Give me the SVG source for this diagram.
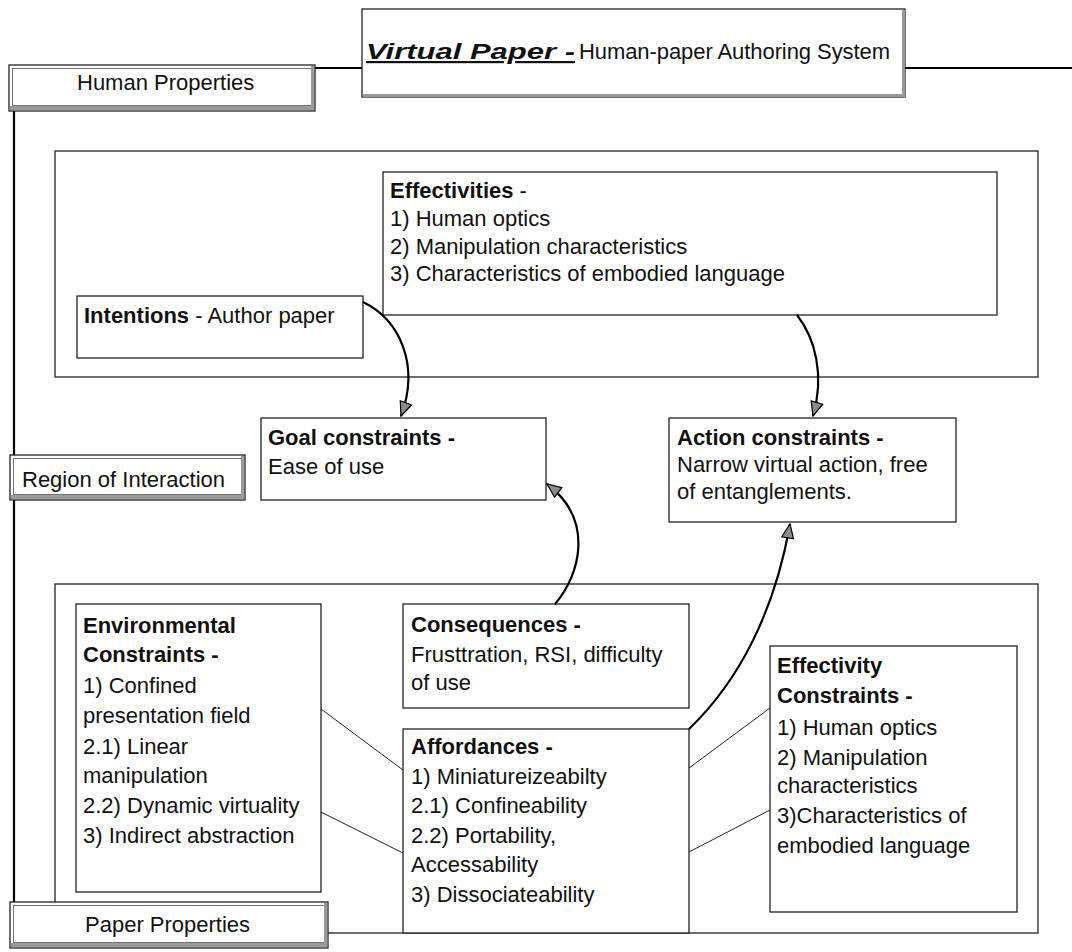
<svg xmlns="http://www.w3.org/2000/svg" width="1072" height="952" viewBox="0 0 1072 952">
  <defs>
    <marker id="head" viewBox="0 0 16 14" refX="15" refY="7" markerWidth="16" markerHeight="14" markerUnits="userSpaceOnUse" orient="auto">
      <path d="M1,1 L15,7 L1,13 Z" fill="#8c8c8c" stroke="#000" stroke-width="1.2"/>
    </marker>
  </defs>
  <style>
    text { font-family: "Liberation Sans", Arial, sans-serif; font-size: 22px; fill: #111; }
    .b { font-weight: bold; }
    .box { fill: #fff; stroke: #222; stroke-width: 1.3; }
    .frame { fill: none; stroke: #222; stroke-width: 1.3; }
    .inner { fill: none; stroke: #666; stroke-width: 0.9; }
    .shade { fill: #9a9a9a; }
    .link { fill: none; stroke: #222; stroke-width: 1; }
    .arc { fill: none; stroke: #000; stroke-width: 2.2; }
    .rule { stroke: #000; stroke-width: 2.2; fill: none; }
  </style>

  <rect x="0" y="0" width="1072" height="952" fill="#fff"/>

  <!-- spine and header rules -->
  <g id="rules">
    <line class="rule" x1="315" y1="68" x2="362" y2="68"/>
    <line class="rule" x1="905" y1="68" x2="1072" y2="68"/>
    <line class="rule" x1="14" y1="111" x2="14" y2="455"/>
    <line class="rule" x1="14" y1="500" x2="14" y2="902"/>
  </g>

  <!-- region frames -->
  <g id="human-region">
    <rect class="frame" x="55" y="151" width="983" height="226"/>
  </g>
  <g id="paper-region">
    <rect class="frame" x="55" y="584" width="983" height="349"/>
  </g>

  <!-- title -->
  <g id="title">
    <rect class="box" x="362" y="9" width="543" height="88"/>
    <rect class="shade" x="902" y="10" width="3" height="87"/>
    <rect class="shade" x="363" y="94" width="542" height="3"/>
    <text x="366" y="59" class="b" font-style="italic" font-size="25" text-decoration="underline" textLength="209" lengthAdjust="spacingAndGlyphs">Virtual Paper -</text>
    <text x="579" y="59" textLength="311">Human-paper Authoring System</text>
  </g>

  <!-- side labels -->
  <g id="human-properties">
    <rect class="box" x="9" y="65" width="306" height="46"/>
    <rect class="inner" x="12.5" y="68.5" width="299" height="37"/>
    <rect class="shade" x="10" y="106" width="304" height="4"/>
    <rect class="shade" x="311" y="66" width="3" height="44"/>
    <text x="77" y="90">Human Properties</text>
  </g>
  <g id="region-of-interaction">
    <rect class="box" x="10" y="455" width="235" height="45"/>
    <rect class="inner" x="13.5" y="458.5" width="228" height="36"/>
    <rect class="shade" x="11" y="495" width="233" height="4"/>
    <rect class="shade" x="241" y="456" width="3" height="43"/>
    <text x="22" y="487">Region of Interaction</text>
  </g>
  <g id="paper-properties">
    <rect class="box" x="10" y="902" width="318" height="46"/>
    <rect class="inner" x="13.5" y="905.5" width="311" height="37"/>
    <rect class="shade" x="11" y="943" width="316" height="4"/>
    <rect class="shade" x="324" y="903" width="3" height="44"/>
    <text x="85" y="932">Paper Properties</text>
  </g>

  <!-- human side -->
  <g id="effectivities">
    <rect class="box" x="383" y="172" width="614" height="143"/>
    <text x="390" y="198"><tspan class="b">Effectivities</tspan> -</text>
    <text x="390" y="226">1) Human optics</text>
    <text x="390" y="254">2) Manipulation characteristics</text>
    <text x="390" y="281">3) Characteristics of embodied language</text>
  </g>
  <g id="intentions">
    <rect class="box" x="77" y="296" width="286" height="62"/>
    <text x="84" y="323"><tspan class="b">Intentions</tspan> - Author paper</text>
  </g>

  <!-- interaction -->
  <g id="goal-constraints">
    <rect class="box" x="261" y="418" width="285" height="82"/>
    <text x="268" y="445" class="b">Goal constraints -</text>
    <text x="268" y="474">Ease of use</text>
  </g>
  <g id="action-constraints">
    <rect class="box" x="669" y="418" width="287" height="104"/>
    <text x="677" y="445" class="b">Action constraints -</text>
    <text x="677" y="472">Narrow virtual action, free</text>
    <text x="677" y="499">of entanglements.</text>
  </g>

  <!-- paper side -->
  <g id="environmental-constraints">
    <rect class="box" x="76" y="604" width="245" height="288"/>
    <text x="83" y="633" class="b">Environmental</text>
    <text x="83" y="662" class="b">Constraints -</text>
    <text x="83" y="693">1) Confined</text>
    <text x="83" y="723">presentation field</text>
    <text x="83" y="754">2.1) Linear</text>
    <text x="83" y="783">manipulation</text>
    <text x="83" y="813">2.2) Dynamic virtuality</text>
    <text x="83" y="843">3) Indirect abstraction</text>
  </g>
  <g id="consequences">
    <rect class="box" x="403" y="604" width="286" height="104"/>
    <text x="411" y="632" class="b">Consequences -</text>
    <text x="411" y="662">Frusttration, RSI, difficulty</text>
    <text x="411" y="690">of use</text>
  </g>
  <g id="affordances">
    <rect class="box" x="403" y="729" width="286" height="204"/>
    <text x="411" y="754" class="b">Affordances -</text>
    <text x="411" y="784">1) Miniatureizeabilty</text>
    <text x="411" y="813">2.1) Confineability</text>
    <text x="411" y="843">2.2) Portability,</text>
    <text x="411" y="872">Accessability</text>
    <text x="411" y="902">3) Dissociateability</text>
  </g>
  <g id="effectivity-constraints">
    <rect class="box" x="770" y="646" width="247" height="266"/>
    <text x="777" y="673" class="b">Effectivity</text>
    <text x="777" y="703" class="b">Constraints -</text>
    <text x="777" y="735">1) Human optics</text>
    <text x="777" y="765">2) Manipulation</text>
    <text x="777" y="793">characteristics</text>
    <text x="777" y="823">3)Characteristics of</text>
    <text x="777" y="853">embodied language</text>
  </g>

  <!-- connectors -->
  <g id="connectors">
    <path class="link" d="M321,709 L403,770"/>
    <path class="link" d="M321,812 L403,853"/>
    <path class="link" d="M689,768 L770,708"/>
    <path class="link" d="M689,852 L770,810"/>
    <path class="arc" d="M363,302 C400,320 420,365 401,416" marker-end="url(#head)"/>
    <path class="arc" d="M797,315 C815,338 825,375 813,416" marker-end="url(#head)"/>
    <path class="arc" d="M555,604 C580,575 595,520 547,484" marker-end="url(#head)"/>
    <path class="arc" d="M689,729 C740,680 775,610 790,524" marker-end="url(#head)"/>
  </g>
</svg>
